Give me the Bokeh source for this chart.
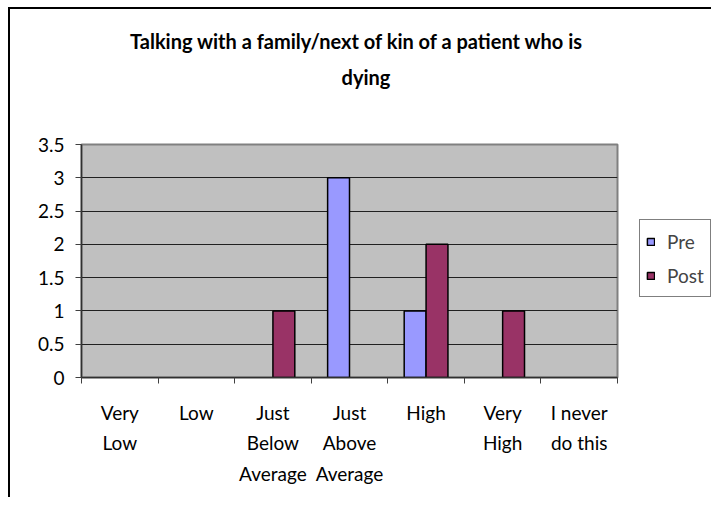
from bokeh.plotting import figure
from bokeh.models import FixedTicker, Legend, LegendItem, ColumnDataSource, Div
from bokeh.layouts import column
from bokeh.embed import file_html
from bokeh.resources import INLINE

# ---- data ----
categories = ["Very\nLow", "Low", "Just\nBelow\nAverage", "Just\nAbove\nAverage",
              "High", "Very\nHigh", "I never\ndo this"]
series_names = ["Pre", "Post"]
pre_values = [0, 0, 0, 3, 1, 0, 0]
post_values = [0, 0, 1, 0, 2, 1, 0]
y_ticks = [0, 0.5, 1, 1.5, 2, 2.5, 3, 3.5]
y_tick_labels = ["0", "0.5", "1", "1.5", "2", "2.5", "3", "3.5"]
title_lines = ["Talking with a family/next of kin of a patient who is", "dying"]
series_colors = ["#9999FF", "#993366"]

FONT = "Lato"
n = len(categories)
bar_w = 1 / 3.5
centers = [i + 0.5 for i in range(n)]


def make_source(values, shift):
    xs = [c + shift for c, v in zip(centers, values) if v > 0]
    tops = [v for v in values if v > 0]
    return ColumnDataSource(dict(x=xs, top=tops))


# title block (centred lines; first line nudged left as in the original)
title_html = ('<span style="position:relative;left:-10px">' + title_lines[0] + '</span><br>'
              + title_lines[1])
title_div = Div(text=title_html, width=702, height=90,
                styles={"font-family": FONT, "font-size": "20px", "font-weight": "bold",
                        "text-align": "center", "line-height": "36px",
                        "padding-top": "9px", "color": "black",
                        "box-sizing": "border-box", "width": "702px"})

p = figure(frame_width=536, frame_height=233,
           x_range=(0, n), y_range=(0, y_ticks[-1]),
           output_backend="svg", toolbar_location=None,
           min_border_left=71, min_border_right=86,
           min_border_top=35, min_border_bottom=120)

p.background_fill_color = "#C0C0C0"
p.border_fill_color = "white"
p.outline_line_color = "#808080"
p.outline_line_width = 2

# bars
renderers = []
for vals, shift, col in [(pre_values, -bar_w / 2, series_colors[0]),
                         (post_values, bar_w / 2, series_colors[1])]:
    r = p.vbar(x="x", top="top", width=bar_w, bottom=0, source=make_source(vals, shift),
               fill_color=col, line_color="black", line_width=1.5)
    renderers.append(r)

# x axis
p.xaxis.ticker = FixedTicker(ticks=centers, minor_ticks=list(range(n + 1)))
p.xaxis.major_label_overrides = {c: lab for c, lab in zip(centers, categories)}
p.xaxis.major_tick_out = 0
p.xaxis.major_tick_in = 0
p.xaxis.minor_tick_out = 6
p.xaxis.minor_tick_in = 0
p.xaxis.minor_tick_line_color = "#404040"
p.xaxis.major_label_standoff = 17
p.xaxis.major_label_text_line_height = 1.33

# y axis
p.yaxis.ticker = FixedTicker(ticks=y_ticks)
p.yaxis.major_label_overrides = {t: lab for t, lab in zip(y_ticks, y_tick_labels)}
p.yaxis.major_tick_out = 6
p.yaxis.major_tick_in = 0
p.yaxis.minor_tick_line_color = None
p.yaxis.major_label_standoff = 11
p.yaxis.major_tick_line_color = "#404040"

for ax in (p.xaxis, p.yaxis):
    ax.axis_line_color = "#303030"
    ax.axis_line_width = 1.5
    ax.major_label_text_font = FONT
    ax.major_label_text_font_size = "19px"
    ax.major_label_text_color = "black"

# grid
p.xgrid.visible = False
p.ygrid.ticker = FixedTicker(ticks=y_ticks[1:-1])
p.ygrid.grid_line_color = "#202020"
p.ygrid.grid_line_width = 1.2

# legend
legend = Legend(items=[LegendItem(label=series_names[i], renderers=[renderers[i]]) for i in range(2)],
                location=(22, 80), margin=0, padding=6, spacing=4,
                glyph_width=9, glyph_height=9, label_height=30, label_standoff=12,
                label_text_font=FONT, label_text_font_size="19px",
                border_line_color="black", border_line_width=1,
                background_fill_color="white", background_fill_alpha=1)
p.add_layout(legend, "right")

layout = column(title_div, p, spacing=0,
                styles={"border-left": "2px solid black", "border-top": "2px solid black",
                        "margin-left": "8px", "margin-top": "7px"})

open("out.html", "w").write(file_html(layout, INLINE))
